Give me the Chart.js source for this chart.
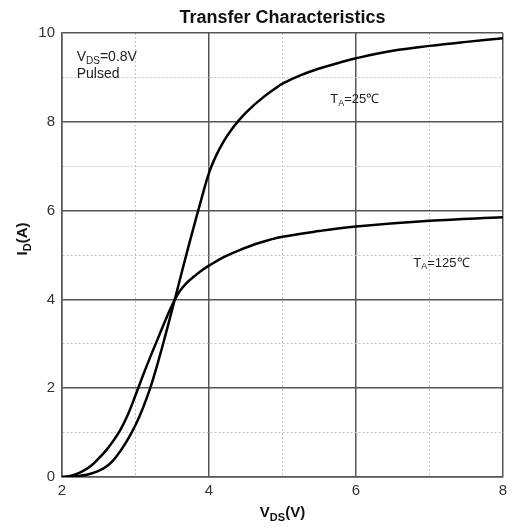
<!DOCTYPE html>
<html>
<head>
<meta charset="utf-8">
<script src="https://cdn.jsdelivr.net/npm/chart.js@4.4.0/dist/chart.umd.min.js"></script>
<style>
  html, body { margin: 0; padding: 0; background: #fff; }
  #wrap { width: 514px; height: 530px; }
</style>
</head>
<body>
<div id="wrap"><canvas id="transferChart"></canvas></div>
<script>
// Transfer characteristics, ID vs VGS
const vgs25 = [2.0, 2.1, 2.2, 2.3, 2.4, 2.5, 2.6, 2.7, 2.8, 2.9, 3.0, 3.1, 3.2, 3.3, 3.4, 3.5, 3.6, 3.7, 3.8, 3.9, 4.0, 4.1, 4.2, 4.3, 4.4, 4.5, 4.6, 4.7, 4.8, 4.9, 5.0, 5.25, 5.5, 5.75, 6.0, 6.5, 7.0, 7.5, 8.0];
const id25 = [0, 0.005, 0.02, 0.04, 0.08, 0.14, 0.23, 0.38, 0.6, 0.86, 1.17, 1.55, 2.0, 2.55, 3.15, 3.78, 4.42, 5.06, 5.68, 6.28, 6.85, 7.25, 7.56, 7.81, 8.02, 8.2, 8.36, 8.5, 8.63, 8.75, 8.86, 9.05, 9.2, 9.32, 9.43, 9.6, 9.71, 9.8, 9.88];

const vgs125 = [2.0, 2.1, 2.2, 2.3, 2.4, 2.5, 2.6, 2.7, 2.8, 2.9, 3.0, 3.1, 3.2, 3.3, 3.4, 3.5, 3.6, 3.7, 3.8, 3.9, 4.0, 4.2, 4.4, 4.7, 5.0, 5.5, 6.0, 7.0, 8.0];
const id125 = [0, 0.02, 0.07, 0.15, 0.26, 0.42, 0.6, 0.82, 1.08, 1.42, 1.84, 2.28, 2.7, 3.1, 3.5, 3.88, 4.18, 4.38, 4.52, 4.65, 4.76, 4.95, 5.1, 5.28, 5.41, 5.54, 5.64, 5.77, 5.85];

const xTicks = [2, 4, 6, 8];
const yTicks = [0, 2, 4, 6, 8, 10];

const FONT = '"Liberation Sans", Arial, sans-serif';

function toPoints(xs, ys) {
  return xs.map((x, i) => ({ x: x, y: ys[i] }));
}

// texte avec indices (ex: V_DS)
function drawParts(ctx, parts, x, y, size, bold) {
  let cx = x;
  parts.forEach((p) => {
    const sub = p[1];
    const fs = sub ? Math.round(size * 0.7) : size;
    ctx.font = (bold ? "bold " : "") + fs + "px " + FONT;
    ctx.fillText(p[0], cx, sub ? y + size * 0.3 : y);
    cx += ctx.measureText(p[0]).width;
  });
  return cx - x;
}

function partsWidth(ctx, parts, size, bold) {
  let w = 0;
  parts.forEach((p) => {
    const fs = p[1] ? Math.round(size * 0.7) : size;
    ctx.font = (bold ? "bold " : "") + fs + "px " + FONT;
    w += ctx.measureText(p[0]).width;
  });
  return w;
}

const labelsPlugin = {
  id: "labels",
  afterDraw(chart) {
    const ctx = chart.ctx;
    const xs = chart.scales.x;
    const ys = chart.scales.y;
    const area = chart.chartArea;
    ctx.save();
    ctx.fillStyle = "#111";
    ctx.textBaseline = "middle";
    ctx.textAlign = "left";

    // titre
    ctx.font = "bold 18px " + FONT;
    ctx.textAlign = "center";
    ctx.fillText("Transfer Characteristics", (area.left + area.right) / 2, 18);
    ctx.textAlign = "left";

    // axe x
    const xt = [["V", false], ["DS", true], ["(V)", false]];
    const xw = partsWidth(ctx, xt, 15, true);
    drawParts(ctx, xt, (area.left + area.right) / 2 - xw / 2, 513, 15, true);

    // axe y
    const yt = [["I", false], ["D", true], ["(A)", false]];
    const yw = partsWidth(ctx, yt, 15, true);
    ctx.save();
    ctx.translate(23, 239);
    ctx.rotate(-Math.PI / 2);
    drawParts(ctx, yt, -yw / 2, 0, 15, true);
    ctx.restore();

    // annotations
    ctx.fillStyle = "#222";
    drawParts(ctx, [["V", false], ["DS", true], ["=0.8V", false]], xs.getPixelForValue(2.2), ys.getPixelForValue(9.45), 14, false);
    drawParts(ctx, [["Pulsed", false]], xs.getPixelForValue(2.2), ys.getPixelForValue(9.08), 14, false);
    drawParts(ctx, [["T", false], ["A", true], ["=25\u2103", false]], xs.getPixelForValue(5.65), ys.getPixelForValue(8.5), 13, false);
    drawParts(ctx, [["T", false], ["A", true], ["=125\u2103", false]], xs.getPixelForValue(6.78), ys.getPixelForValue(4.82), 13, false);
    ctx.restore();
  },
};

function gridColor(ctx) {
  return ctx.tick && ctx.tick.value % 2 === 0 ? "#555" : "#c4c4c4";
}
function gridWidth(ctx) {
  return ctx.tick && ctx.tick.value % 2 === 0 ? 1.5 : 1;
}
function gridDash(ctx) {
  return ctx.tick && ctx.tick.value % 2 !== 0 ? [2, 2] : [];
}

new Chart(document.getElementById("transferChart"), {
  type: "line",
  data: {
    datasets: [
      {
        label: "TA=25°C",
        data: toPoints(vgs25, id25),
        borderColor: "#000",
        borderWidth: 2.5,
        pointRadius: 0,
        tension: 0.4,
        fill: false,
      },
      {
        label: "TA=125°C",
        data: toPoints(vgs125, id125),
        borderColor: "#000",
        borderWidth: 2.5,
        pointRadius: 0,
        tension: 0.4,
        fill: false,
      },
    ],
  },
  options: {
    responsive: true,
    maintainAspectRatio: false,
    animation: false,
    layout: { padding: { top: 33, right: 11, left: 0, bottom: 0 } },
    plugins: {
      legend: { display: false },
      title: { display: false },
      tooltip: { enabled: false },
    },
    scales: {
      x: {
        type: "linear",
        min: 2,
        max: 8,
        afterFit: (s) => { s.height = 53; },
        ticks: {
          stepSize: 1,
          autoSkip: false,
          padding: 5,
          color: "#333",
          font: { family: FONT, size: 15 },
          callback: (v) => (xTicks.includes(v) ? v : ""),
        },
        grid: { color: gridColor, lineWidth: gridWidth, drawTicks: false },
        border: { color: "#555", width: 1.5, dash: gridDash },
      },
      y: {
        type: "linear",
        min: 0,
        max: 10,
        afterFit: (s) => { s.width = 62; },
        ticks: {
          stepSize: 1,
          autoSkip: false,
          padding: 7,
          color: "#333",
          font: { family: FONT, size: 15 },
          callback: (v) => (yTicks.includes(v) ? v : ""),
        },
        grid: { color: gridColor, lineWidth: gridWidth, drawTicks: false },
        border: { color: "#555", width: 1.5, dash: gridDash },
      },
    },
  },
  plugins: [labelsPlugin],
});
</script>
</body>
</html>
